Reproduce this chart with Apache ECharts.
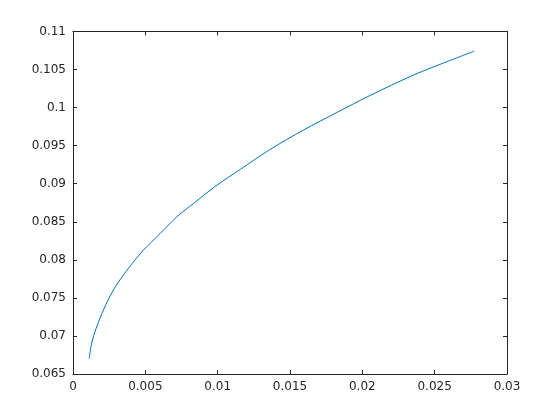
<!DOCTYPE html>
<html>
<head>
<meta charset="utf-8">
<script src="https://cdn.jsdelivr.net/npm/echarts@6/dist/echarts.min.js"></script>
<style>html,body{margin:0;padding:0;background:#fff;}#c{width:560px;height:420px;}</style>
</head>
<body>
<div id="c"></div>
<script>
var xValues = [0.00112, 0.00131, 0.00160, 0.00200, 0.00257, 0.00315, 0.00418, 0.00487, 0.00603, 0.00718, 0.00833, 0.00995, 0.01156, 0.01363, 0.01593, 0.01824, 0.02054, 0.02354, 0.02584, 0.02775];
var yValues = [0.06704, 0.06922, 0.07098, 0.07295, 0.07527, 0.07711, 0.07974, 0.08127, 0.08347, 0.08565, 0.08741, 0.08982, 0.09188, 0.09451, 0.09705, 0.09936, 0.10160, 0.10428, 0.10603, 0.10743];
var xTicks = [0, 0.005, 0.01, 0.015, 0.02, 0.025, 0.03];
var yTicks = [0.065, 0.07, 0.075, 0.08, 0.085, 0.09, 0.095, 0.1, 0.105, 0.11];

var data = xValues.map(function (x, i) { return [x, yValues[i]]; });
var axisColor = '#262626';
var font = 'DejaVu Sans';

function fmt(v) { return String(+v.toFixed(4)); }

var chart = echarts.init(document.getElementById('c'), null, { renderer: 'canvas' });
chart.setOption({
  animation: false,
  backgroundColor: '#fff',
  grid: { left: 73, right: 53, top: 31.5, bottom: 46, containLabel: false },
  xAxis: [{
    type: 'value', min: xTicks[0], max: xTicks[xTicks.length - 1], interval: 0.005, position: 'bottom',
    axisLine: { show: true, onZero: false, lineStyle: { color: axisColor, width: 1 } },
    axisTick: { show: true, inside: true, length: 4, lineStyle: { color: axisColor } },
    axisLabel: { color: axisColor, fontFamily: font, fontSize: 12, margin: 7, formatter: fmt },
    splitLine: { show: false }
  }, {
    type: 'value', min: xTicks[0], max: xTicks[xTicks.length - 1], interval: 0.005, position: 'top',
    axisLine: { show: true, onZero: false, lineStyle: { color: axisColor, width: 1 } },
    axisTick: { show: true, inside: true, length: 4, lineStyle: { color: axisColor } },
    axisLabel: { show: false },
    splitLine: { show: false }
  }],
  yAxis: [{
    type: 'value', min: yTicks[0], max: yTicks[yTicks.length - 1], interval: 0.005, position: 'left',
    axisLine: { show: true, onZero: false, lineStyle: { color: axisColor, width: 1 } },
    axisTick: { show: true, inside: true, length: 4, lineStyle: { color: axisColor } },
    axisLabel: { color: axisColor, fontFamily: font, fontSize: 12, margin: 7, formatter: fmt },
    splitLine: { show: false }
  }, {
    type: 'value', min: yTicks[0], max: yTicks[yTicks.length - 1], interval: 0.005, position: 'right',
    axisLine: { show: true, onZero: false, lineStyle: { color: axisColor, width: 1 } },
    axisTick: { show: true, inside: true, length: 4, lineStyle: { color: axisColor } },
    axisLabel: { show: false },
    splitLine: { show: false }
  }],
  series: [{
    type: 'line',
    data: data,
    xAxisIndex: 0,
    yAxisIndex: 0,
    smooth: 0.3,
    showSymbol: false,
    symbol: 'none',
    lineStyle: { color: '#0072BD', width: 1 }
  }]
});
</script>
</body>
</html>
